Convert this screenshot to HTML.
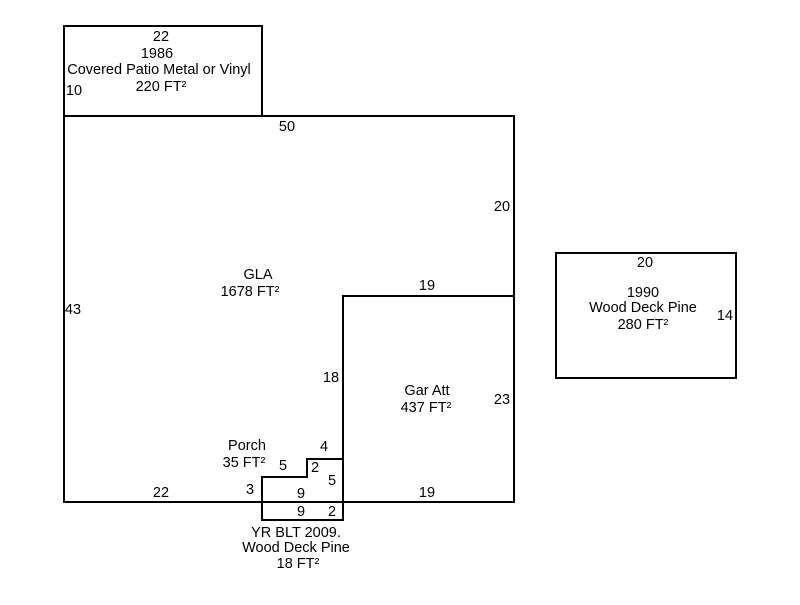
<!DOCTYPE html>
<html><head><style>
body{margin:0;background:#fff}
svg text{font-family:"Liberation Sans",sans-serif;font-size:14.5px;fill:#000;text-anchor:middle}
</style></head><body>
<svg width="800" height="600" viewBox="0 0 800 600">
<g fill="none" stroke="#000" stroke-width="2">
<rect x="64" y="26" width="198" height="90"/>
<rect x="64" y="116" width="450" height="386"/>
<polyline points="343,502 343,296 514,296"/>
<polyline points="262,502 262,477 307,477 307,459 343,459"/>
<rect x="262" y="502" width="81" height="18"/>
<rect x="556" y="253" width="180" height="125"/>
</g>
<text x="161" y="41">22</text>
<text x="157" y="58">1986</text>
<text x="159" y="74">Covered Patio Metal or Vinyl</text>
<text x="74" y="95">10</text>
<text x="161" y="91">220 FT²</text>
<text x="287" y="131">50</text>
<text x="502" y="211">20</text>
<text x="258" y="279">GLA</text>
<text x="250" y="296">1678 FT²</text>
<text x="73" y="314">43</text>
<text x="427" y="290">19</text>
<text x="331" y="382">18</text>
<text x="427" y="395">Gar Att</text>
<text x="426" y="412">437 FT²</text>
<text x="502" y="404">23</text>
<text x="247" y="450">Porch</text>
<text x="244" y="467">35 FT²</text>
<text x="324" y="451">4</text>
<text x="283" y="470">5</text>
<text x="315" y="472">2</text>
<text x="332" y="485">5</text>
<text x="250" y="494">3</text>
<text x="161" y="497">22</text>
<text x="301" y="498">9</text>
<text x="427" y="497">19</text>
<text x="301" y="516">9</text>
<text x="332" y="516">2</text>
<text x="296" y="537">YR BLT 2009.</text>
<text x="296" y="552">Wood Deck Pine</text>
<text x="298" y="568">18 FT²</text>
<text x="645" y="267">20</text>
<text x="643" y="297">1990</text>
<text x="643" y="312">Wood Deck Pine</text>
<text x="643" y="329">280 FT²</text>
<text x="725" y="320">14</text>
</svg>
</body></html>
